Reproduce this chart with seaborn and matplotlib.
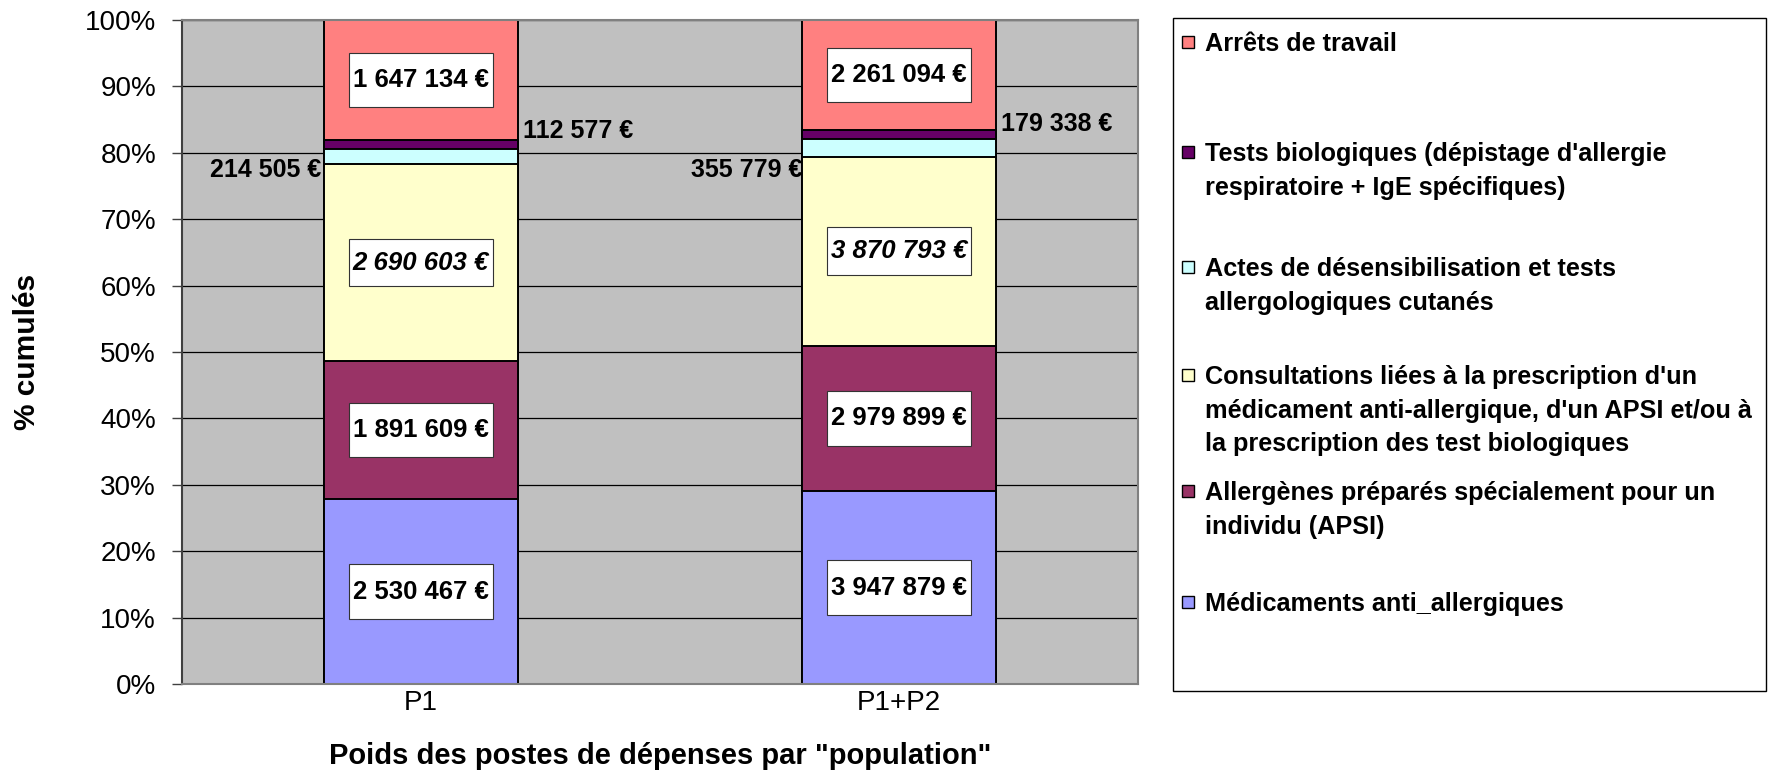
import matplotlib
matplotlib.use("Agg")
import matplotlib.pyplot as plt
from matplotlib.path import Path
from matplotlib.patches import Rectangle
from matplotlib import font_manager
import numpy as np
import pandas as pd
import seaborn as sns

# ---------------- data ----------------
categories = ["P1", "P1+P2"]
medicaments = [2530467, 3947879]
apsi = [1891609, 2979899]
consultations = [2690603, 3870793]
actes = [214505, 355779]
tests = [112577, 179338]
arrets = [1647134, 2261094]

series_names = [
    "Médicaments anti_allergiques",
    "Allergènes préparés spécialement pour un\nindividu (APSI)",
    "Consultations liées à la prescription d'un\nmédicament anti-allergique, d'un APSI et/ou à\nla prescription des test biologiques",
    "Actes de désensibilisation et tests\nallergologiques cutanés",
    "Tests biologiques (dépistage d'allergie\nrespiratoire + IgE spécifiques)",
    "Arrêts de travail",
]
series_values = [medicaments, apsi, consultations, actes, tests, arrets]
series_colors = ["#9999FF", "#993366", "#FFFFCC", "#CCFFFF", "#660066", "#FF8080"]
ytick_values = [0, 10, 20, 30, 40, 50, 60, 70, 80, 90, 100]
ytick_labels = ["0%", "10%", "20%", "30%", "40%", "50%", "60%", "70%", "80%", "90%", "100%"]
xlabel = "Poids des postes de dépenses par \"population\""
ylabel = "% cumulés"

# label style per series: 'box', 'box_italic', 'left', 'right'
label_modes = ["box", "box", "box_italic", "left", "right", "box"]
# offsets (points) for outside labels, per category
outside_offsets = {
    3: [(-2.2, -10.0), (0.0, -16.2)],
    4: [(3.6, 9.4), (3.6, 7.6)],
}

# ---------------- style ----------------
sns.set_style("white")
names = {f.name for f in font_manager.fontManager.ttflist}
fam = "Liberation Sans" if "Liberation Sans" in names else "DejaVu Sans"
plt.rcParams["font.family"] = [fam, "DejaVu Sans"]
for key in ["text.color", "axes.labelcolor", "xtick.color", "ytick.color"]:
    plt.rcParams[key] = "black"

W, H = 1777, 771
fig = plt.figure(figsize=(W / 100, H / 100), dpi=100)
ax = fig.add_axes([182 / W, 1 - 684 / H, (1138 - 182) / W, (684 - 20) / H])
ax.set_facecolor("#C0C0C0")

BAR_W = 0.404

# ---------------- table ----------------
totals = np.sum(np.array(series_values, dtype=float), axis=0)
rows = []
cum = np.zeros(len(categories))
for k, (name, vals) in enumerate(zip(series_names, series_values)):
    pct = np.array(vals, dtype=float) / totals * 100
    for i, cat in enumerate(categories):
        rows.append(dict(serie=k, population=cat, value=vals[i],
                         bottom=cum[i], top=cum[i] + pct[i]))
    cum = cum + pct
df = pd.DataFrame(rows)

# stacked via overlapping cumulative bars (top layer first)
for k in reversed(range(len(series_names))):
    sub = df[df.serie == k]
    sns.barplot(data=sub, x="population", y="top", order=categories,
                color=series_colors[k], saturation=1, width=BAR_W,
                edgecolor="black", linewidth=1.4, errorbar=None, ax=ax)


def make_box(half_h_factor):
    def box(x0, y0, width, height, mutation_size):
        padx = 0.16 * mutation_size
        hh = half_h_factor * mutation_size
        cy = y0 + height / 2
        xa, xb = x0 - padx, x0 + width + padx
        return Path([(xa, cy - hh), (xb, cy - hh), (xb, cy + hh),
                     (xa, cy + hh), (xa, cy - hh)], closed=True)
    return box


def fmt(v):
    return f"{v:,}".replace(",", " ") + " €"


for _, r in df.iterrows():
    k = int(r.serie)
    i = categories.index(r.population)
    mid = (r.bottom + r.top) / 2
    mode = label_modes[k]
    txt = fmt(int(r.value))
    if mode.startswith("box"):
        italic = mode == "box_italic"
        ax.text(i, mid, txt, ha="center", va="center", fontsize=18.5,
                fontweight="bold", fontstyle="italic" if italic else "normal",
                color="black",
                bbox=dict(boxstyle=make_box(0.93 if italic else 1.06),
                          facecolor="white", edgecolor="#333333", linewidth=0.8),
                zorder=5)
    else:
        dx, dy = outside_offsets[k][i]
        if mode == "left":
            ax.annotate(txt, xy=(i - BAR_W / 2, mid), xytext=(dx, dy),
                        textcoords="offset points", ha="right", va="center",
                        fontsize=18, fontweight="bold", color="black", zorder=5)
        else:
            ax.annotate(txt, xy=(i + BAR_W / 2, mid), xytext=(dx, dy),
                        textcoords="offset points", ha="left", va="center",
                        fontsize=18, fontweight="bold", color="black", zorder=5)

# ---------------- axes ----------------
ax.set_xlim(-0.5, 1.5)
ax.set_ylim(0, 100)
ax.set_yticks(ytick_values)
ax.set_yticklabels(ytick_labels, fontsize=20)
ax.tick_params(axis="y", length=7.2, width=1, color="#404040", pad=11.5,
               left=True, labelcolor="black")
ax.tick_params(axis="x", length=0, pad=4, labelsize=20, labelcolor="black")
ax.yaxis.grid(True, color="black", linewidth=0.9)
ax.xaxis.grid(False)
ax.set_axisbelow(True)
for s in ax.spines.values():
    s.set_visible(True)
    s.set_color("#808080")
    s.set_linewidth(1.5)
ax.spines["left"].set_color("#404040")

ax.set_xlabel(xlabel, fontsize=21, fontweight="bold", va="baseline", color="black")
ax.xaxis.set_label_coords(0.5, (684 - 764) / 664)
ax.set_ylabel(ylabel, fontsize=21.5, fontweight="bold", va="center", ha="center",
              color="black")
ax.yaxis.set_label_coords((27 - 182) / 956, 0.5)

# ---------------- legend (manual, figure pixels) ----------------
def fx(px):
    return px / W


def fy(py):
    return 1 - py / H


fig.add_artist(Rectangle((fx(1173), fy(691)), (1766 - 1173) / W, (691 - 18) / H,
                         transform=fig.transFigure, facecolor="white",
                         edgecolor="black", linewidth=1.0, zorder=1))
legend_centers = [42, 152, 267, 375, 491, 602]
leg_fs = 18.2
cap_half = 0.716 * leg_fs * 100 / 72 / 2
line_step = 33.5
order = list(reversed(range(len(series_names))))
for c, k in zip(legend_centers, order):
    fig.add_artist(Rectangle((fx(1182), fy(c + 6)), 12 / W, 12 / H,
                             transform=fig.transFigure,
                             facecolor=series_colors[k], edgecolor="black",
                             linewidth=1.0, zorder=2))
    for j, line in enumerate(series_names[k].split("\n")):
        fig.text(fx(1205), fy(c + cap_half + j * line_step), line,
                 fontsize=leg_fs, fontweight="bold", ha="left", va="baseline",
                 color="black", zorder=3)

fig.savefig("out.png", dpi=100)
